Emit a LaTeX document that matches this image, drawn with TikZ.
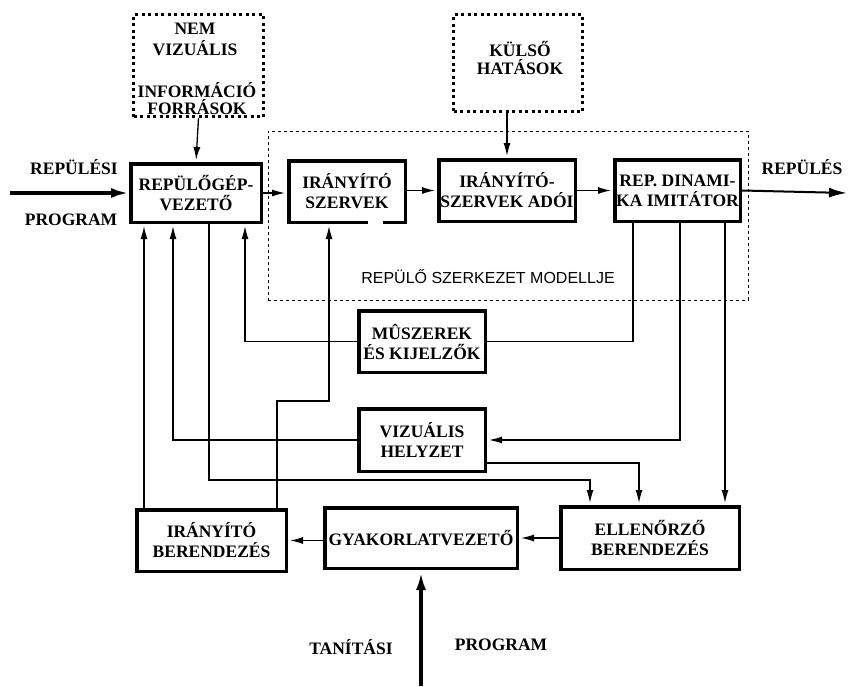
\documentclass[tikz,border=0pt]{standalone}
\usepackage{fontspec}
\setmainfont{Liberation Serif}
\newfontfamily\labelfont{Liberation Sans}
\usetikzlibrary{arrows.meta,calc}
\begin{document}
\begin{tikzpicture}[x=1pt,y=-1pt,
  txt/.style={font=\bfseries\fontsize{17.5}{20}\selectfont},
  box/.style={draw,line width=3.5pt,txt,align=center,inner sep=0pt},
  srcbox/.style={draw,line width=3pt,dash pattern=on 3pt off 3.5pt,inner sep=0pt},
  modelbox/.style={draw,line width=0.9pt,dash pattern=on 3pt off 3pt,inner sep=0pt},
  conn/.style={line width=1.3pt},
  arr/.style={conn,-{Latex[length=13pt,width=7pt]},shorten >=2pt},
  bigarr/.style={line width=3.5pt,-{Latex[length=18pt,width=10pt]}},
]
\useasboundingbox (0,0) rectangle (848,686);
\fill[white] (0,0) rectangle (848,686);

% dotted model region
\node[modelbox,minimum width=480pt,minimum height=169pt] (model) at (508,215.5) {};
\node[font=\labelfont\fontsize{16}{18}\selectfont] (modellbl) at (488,277) {REPÜLŐ SZERKEZET MODELLJE};

% source boxes
\node[srcbox,minimum width=130pt,minimum height=102pt] (nem) at (198.5,65.5) {};
\node[txt,align=center,font=\bfseries\fontsize{17.5}{20.5}\selectfont] (nemtxt1) at (195,39.5) {NEM\\VIZUÁLIS};
\node[txt,align=center,font=\bfseries\fontsize{17.5}{17.5}\selectfont] (nemtxt2) at (197,98.5) {INFORMÁCIÓ\\FORRÁSOK};
\node[srcbox,minimum width=129pt,minimum height=97pt] (kulso) at (518,63) {};
\node[txt,align=center,font=\bfseries\fontsize{17.5}{17.5}\selectfont] (kulsotxt) at (520,58) {KÜLSŐ\\HATÁSOK};

% main boxes
\node[box,minimum width=130.5pt,minimum height=58.5pt] (pilot) at (196,193) {REPÜLŐGÉP-\\VEZETŐ};
\node[box,minimum width=116.5pt,minimum height=61.5pt] (szervek) at (347,191.5) {IRÁNYÍTÓ\\SZERVEK};
\fill[white] (368,220) rectangle (383,228);
\node[box,minimum width=136.5pt,minimum height=61.5pt] (adoi) at (507,190.5) {IRÁNYÍTÓ-\\SZERVEK ADÓI};
\node[box,minimum width=125.5pt,minimum height=61.5pt] (dinamika) at (677.5,190.5) {REP. DINAMI-\\KA IMITÁTOR};
\node[box,minimum width=126.5pt,minimum height=61.5pt] (muszer) at (422,341.5) {MÛSZEREK\\ÉS KIJELZŐK};
\node[box,minimum width=126.5pt,minimum height=62.5pt] (vizualis) at (422,440) {VIZUÁLIS\\HELYZET};
\node[box,minimum width=149.5pt,minimum height=61.5pt] (iranyber) at (211.5,540.5) {IRÁNYÍTÓ\\BERENDEZÉS};
\node[box,minimum width=192.5pt,minimum height=60.5pt] (gyak) at (421,538) {GYAKORLATVEZETŐ};
\node[box,minimum width=178.5pt,minimum height=62.5pt] (ellen) at (650,538) {ELLENŐRZŐ\\BERENDEZÉS};

% labels
\node[txt] (l1) at (74,167) {REPÜLÉSI};
\node[txt] (l2) at (71,220) {PROGRAM};
\node[txt] (l3) at (802,167) {REPÜLÉS};
\node[txt] (l4) at (351,647) {TANÍTÁSI};
\node[txt] (l5) at (501,645) {PROGRAM};

% end points
\coordinate (in1) at (10,193);
\coordinate (out1) at (847,193);
\coordinate (in2) at (421,686);

% thick arrows
\draw[bigarr] (in1) -- (pilot.west);
\draw[bigarr,line width=2pt] (dinamika.east) -- (out1);
\draw[bigarr,shorten >=2pt] (in2) -- (gyak.south);

% top chain
\draw[arr] (nem.south) -- (pilot.north);
\draw[arr] (kulso.south -| adoi.north) -- (adoi.north);
\draw[arr] (pilot.east) -- (pilot.east -| szervek.west);
\draw[arr] (szervek.east |- adoi.west) -- (adoi.west);
\draw[arr] (adoi.east) -- (dinamika.west);

% from dinamika
\draw[conn] ([xshift=-44.5pt]dinamika.south) |- (muszer.east);
\draw[arr] ([xshift=2.5pt]dinamika.south) |- (vizualis.east);
\draw[arr] ([xshift=47.5pt]dinamika.south) -- ([xshift=47.5pt]dinamika.south |- ellen.north);

% feedback to pilot
\draw[arr] (muszer.west) -| ([xshift=49pt]pilot.south);
\draw[arr] (vizualis.west) -| ([xshift=-23pt]pilot.south);
\draw[arr] ([xshift=-67.5pt]iranyber.north) -- ([xshift=-67.5pt]iranyber.north |- pilot.south);
\draw[arr] ([xshift=65.5pt]iranyber.north) -- ++(0,-107) -| ([xshift=-18pt]szervek.south);

% to ellenorzo
\draw[arr] ([xshift=13pt]pilot.south) -- ++(0,256) -| ([xshift=-60pt]ellen.north);
\draw[arr] ([yshift=-23pt]vizualis.east) -| ([xshift=-11pt]ellen.north);

% bottom chain
\draw[arr] (ellen.west) -- (gyak.east);
\draw[arr] (gyak.west |- iranyber.east) -- (iranyber.east);
\end{tikzpicture}
\end{document}
